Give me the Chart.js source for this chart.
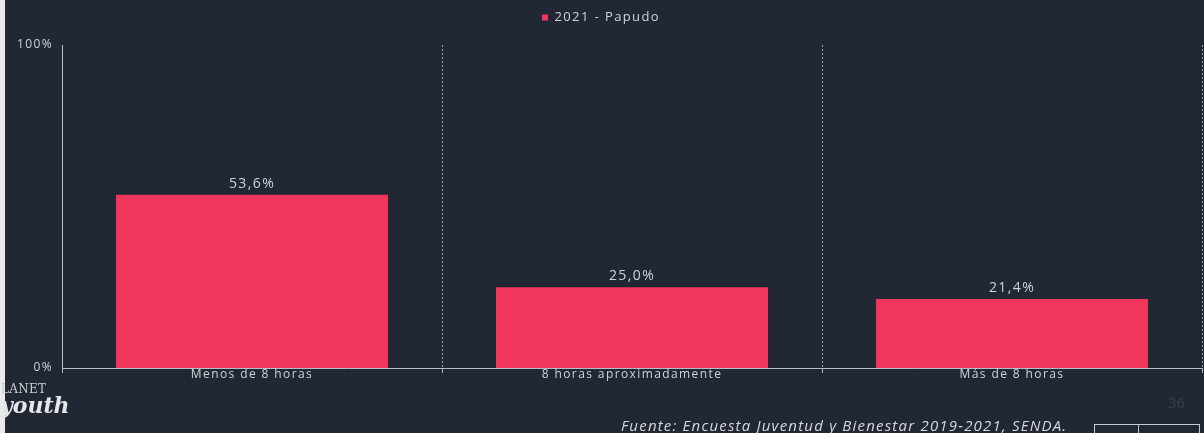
<!DOCTYPE html>
<html>
<head>
<meta charset="utf-8">
<script src="https://cdn.jsdelivr.net/npm/chart.js@4"></script>
<style>
  html, body { margin: 0; padding: 0; background: #212833; }
  #wrap { position: relative; width: 1204px; height: 433px; overflow: hidden; background: #212833; }
  canvas { position: absolute; left: 0; top: 0; }
  .strip { position: absolute; left: 0; top: 0; width: 5px; height: 433px; background: #e8eaec; }
  .foot { position: absolute; left: 621px; top: 415px; font: italic 15px "Open Sans", sans-serif; letter-spacing: 1.2px; color: #d6d8dc; white-space: nowrap; }
  .logo1 { position: absolute; left: 1px; top: 382px; font: 12px "DejaVu Serif", serif; color: #c9ccd1; letter-spacing: 0.3px; }
  .logo2 { position: absolute; left: 0px; top: 392px; font: italic bold 22px "DejaVu Serif", serif; color: #e4e6e9; }
  .page { position: absolute; left: 1168px; top: 392px; font: 15px "Open Sans", sans-serif; color: #39414d; }
  .box { position: absolute; left: 1094px; top: 424px; width: 104px; height: 20px; border: 1px solid #c9ccd1; }
  .box2 { position: absolute; left: 1138px; top: 424px; width: 0; height: 20px; border-left: 1px solid #c9ccd1; }
</style>
</head>
<body>
<div id="wrap">
  <canvas id="c" width="1204" height="433"></canvas>
  <div class="strip"></div>
  <div class="logo1">LANET</div>
  <div class="logo2">youth</div>
  <div class="foot">Fuente: Encuesta Juventud y Bienestar 2019-2021, SENDA.</div>
  <div class="page">36</div>
  <div class="box"></div>
  <div class="box2"></div>
</div>
<script>
const categories = ["Menos de 8 horas", "8 horas aproximadamente", "Más de 8 horas"];
const seriesName = "2021 - Papudo";
const values = [53.6, 25.0, 21.4];
const yTicks = [0, 100];

const textColor = "#cfd3d9";
const barColor = "#f1365e";
const spacing = "1.4px";

const layoutFix = {
  id: "layoutFix",
  beforeLayout(chart) {
    chart.ctx.letterSpacing = spacing;
    const lg = chart.legend;
    if (lg && !lg._patched) {
      const orig = lg.fit;
      lg.fit = function () { orig.call(this); this.height += 11; };
      lg._patched = true;
    }
  },
  beforeDraw(chart) {
    chart.ctx.letterSpacing = spacing;
  }
};

const dataLabels = {
  id: "dataLabels",
  afterDatasetsDraw(chart) {
    const ctx = chart.ctx;
    const meta = chart.getDatasetMeta(0);
    ctx.save();
    ctx.letterSpacing = spacing;
    ctx.font = '14px "Open Sans", sans-serif';
    ctx.fillStyle = textColor;
    ctx.textAlign = "center";
    ctx.textBaseline = "bottom";
    meta.data.forEach((bar, i) => {
      const v = chart.data.datasets[0].data[i];
      ctx.fillText(v.toFixed(1).replace(".", ",") + "%", bar.x, bar.y - 4);
    });
    ctx.restore();
  }
};

new Chart(document.getElementById("c"), {
  type: "bar",
  data: {
    labels: categories,
    datasets: [{
      label: seriesName,
      data: values,
      backgroundColor: barColor,
      borderWidth: 0,
      barPercentage: 0.716,
      categoryPercentage: 1.0
    }]
  },
  options: {
    responsive: false,
    animation: false,
    devicePixelRatio: 1,
    layout: { padding: { left: 0, right: 2, top: 1, bottom: 0 } },
    plugins: {
      legend: {
        display: true,
        position: "top",
        labels: {
          boxWidth: 6,
          boxHeight: 6,
          padding: 10,
          color: textColor,
          font: { family: "Open Sans", size: 13 }
        }
      },
      tooltip: { enabled: false }
    },
    scales: {
      x: {
        offset: true,
        grid: {
          display: true,
          offset: true,
          color: "rgba(170,180,195,0.85)",
          lineWidth: 1,
          drawTicks: true,
          tickLength: 5,
          tickColor: "rgba(190,196,205,0.9)"
        },
        border: { display: true, color: "#b8bdc5", width: 1, dash: [2, 2] },
        ticks: {
          color: textColor,
          font: { family: "Open Sans", size: 12 },
          padding: -6,
          maxRotation: 0,
          autoSkip: false
        },
        afterFit(scale) { scale.height = 65; }
      },
      y: {
        min: 0,
        max: 100,
        afterBuildTicks(scale) { scale.ticks = yTicks.map(v => ({ value: v })); },
        grid: { display: false, drawTicks: true, tickLength: 4 },
        border: { display: true, color: "#b8bdc5", width: 1 },
        ticks: {
          color: textColor,
          font: { family: "Open Sans", size: 12 },
          padding: 5,
          callback: (v) => v + "%"
        },
        afterFit(scale) { scale.width = 62; }
      }
    }
  },
  plugins: [layoutFix, dataLabels]
});
</script>
</body>
</html>
